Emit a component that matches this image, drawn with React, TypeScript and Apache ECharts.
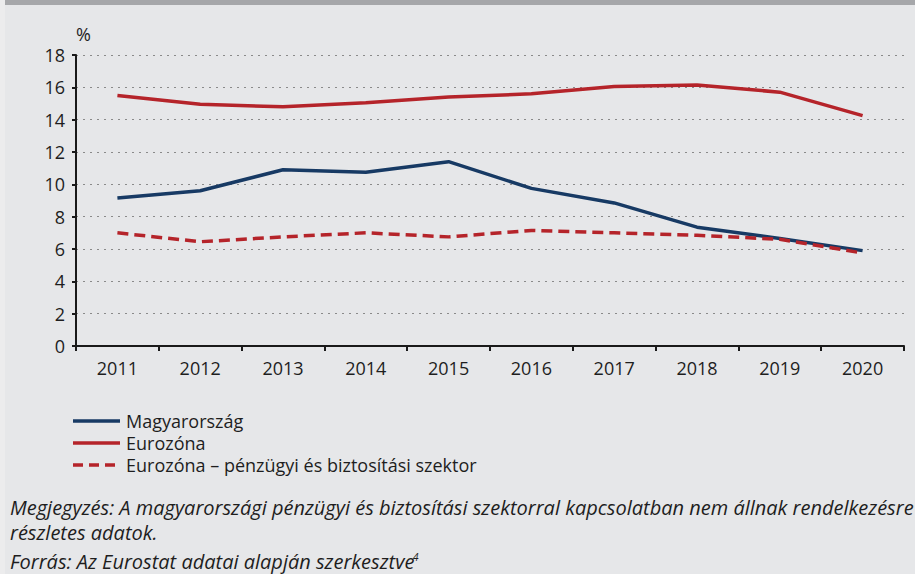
import React, { useEffect, useRef } from "react";
import * as echarts from "echarts";

const years = ["2011", "2012", "2013", "2014", "2015", "2016", "2017", "2018", "2019", "2020"];
const magyarorszag = [9.15, 9.6, 10.9, 10.75, 11.4, 9.75, 8.85, 7.35, 6.65, 5.9];
const eurozona = [15.5, 14.95, 14.8, 15.05, 15.4, 15.6, 16.05, 16.15, 15.7, 14.25];
const eurozonaPenzugyi = [7.0, 6.45, 6.75, 7.0, 6.75, 7.15, 7.0, 6.85, 6.6, 5.75];
const seriesNames = ["Magyarország", "Eurozóna", "Eurozóna – pénzügyi és biztosítási szektor"];
const noteLine1 = "Megjegyzés: A magyarországi pénzügyi és biztosítási szektorral kapcsolatban nem állnak rendelkezésre";
const noteLine2 = "részletes adatok.";
const sourceText = "Forrás: Az Eurostat adatai alapján szerkesztve";

const FONT = "'Open Sans', sans-serif";
const NAVY = "#173a64";
const RED = "#b5242a";
const TEXT = "#1e1e1e";

export default function App() {
  const ref = useRef<HTMLDivElement>(null);
  useEffect(() => {
    document.body.style.margin = "0";
    const chart = echarts.init(ref.current!, null, { renderer: "svg" });
    const colors = [NAVY, RED, RED];
    const dashes: any[] = ["solid", "solid", [10, 6]];
    const legendGraphics: any[] = [];
    seriesNames.forEach((name, i) => {
      const cy = 421 + i * 22;
      legendGraphics.push({
        type: "line",
        shape: { x1: 73, y1: cy, x2: 120, y2: cy },
        style: { stroke: colors[i], lineWidth: 3.5, lineDash: dashes[i] === "solid" ? null : dashes[i] },
        silent: true,
      });
      legendGraphics.push({
        type: "text",
        left: 126,
        top: cy - 11,
        style: { text: name, fontFamily: FONT, fontSize: 18, lineHeight: 22, fill: TEXT },
      });
    });
    chart.setOption({
      animation: false,
      backgroundColor: "#e6e7e9",
      textStyle: { fontFamily: FONT },
      grid: { left: 76, right: 11, top: 55, bottom: 228, containLabel: false },
      xAxis: {
        type: "category",
        data: years,
        boundaryGap: true,
        axisLine: { lineStyle: { color: "#1a1a1a", width: 2 } },
        axisTick: { show: true, length: 5, lineStyle: { color: "#1a1a1a", width: 2 } },
        axisLabel: { color: TEXT, fontSize: 18, margin: 13, fontFamily: FONT },
      },
      yAxis: {
        type: "value",
        min: 0,
        max: 18,
        interval: 2,
        name: "%",
        nameLocation: "end",
        nameGap: 12,
        nameTextStyle: { color: TEXT, fontSize: 18, fontFamily: FONT, align: "left" },
        axisLine: { show: true, lineStyle: { color: "#1a1a1a", width: 2 } },
        axisTick: { show: true, length: 4, lineStyle: { color: "#1a1a1a", width: 2 } },
        axisLabel: { color: TEXT, fontSize: 18, margin: 11, fontFamily: FONT },
        splitLine: { show: true, lineStyle: { color: "#8a8a8a", type: [2, 5], width: 1.2 } },
      },
      series: [
        {
          name: seriesNames[0],
          type: "line",
          data: magyarorszag,
          symbol: "none",
          lineStyle: { color: NAVY, width: 3.5 },
          itemStyle: { color: NAVY },
          z: 3,
        },
        {
          name: seriesNames[1],
          type: "line",
          data: eurozona,
          symbol: "none",
          lineStyle: { color: RED, width: 3.5 },
          itemStyle: { color: RED },
          z: 3,
        },
        {
          name: seriesNames[2],
          type: "line",
          data: eurozonaPenzugyi,
          symbol: "none",
          lineStyle: { color: RED, width: 3.5, type: [11, 6] },
          itemStyle: { color: RED },
          z: 4,
        },
      ],
      graphic: [
        { type: "rect", left: 0, top: 0, shape: { width: 5, height: 574 }, style: { fill: "#ececed" }, silent: true },
        { type: "rect", left: 5, top: 0, shape: { width: 910, height: 5 }, style: { fill: "#a6a7aa" }, silent: true },
        ...legendGraphics,
        {
          type: "text",
          left: 10,
          top: 495,
          style: { text: noteLine1, fontFamily: FONT, fontSize: 20, lineHeight: 25, fontStyle: "italic", fill: TEXT },
        },
        {
          type: "text",
          left: 10,
          top: 520,
          style: { text: noteLine2, fontFamily: FONT, fontSize: 20, lineHeight: 25, fontStyle: "italic", fill: TEXT },
        },
        {
          type: "text",
          left: 10,
          top: 549,
          style: { text: sourceText, fontFamily: FONT, fontSize: 20, lineHeight: 25, fontStyle: "italic", fill: TEXT },
        },
        {
          type: "text",
          left: 413,
          top: 552,
          style: { text: "4", fontFamily: FONT, fontSize: 10, lineHeight: 10, fontStyle: "italic", fill: TEXT },
        },
      ],
    });
    return () => chart.dispose();
  }, []);
  return <div ref={ref} style={{ width: 915, height: 574 }} />;
}
